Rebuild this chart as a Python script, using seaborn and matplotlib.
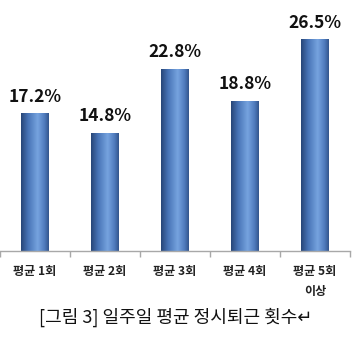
import numpy as np
import pandas as pd
import matplotlib
matplotlib.use("Agg")
import matplotlib.pyplot as plt
from matplotlib.colors import LinearSegmentedColormap
import seaborn as sns

categories = ["평균 1회", "평균 2회", "평균 3회", "평균 4회", "평균 5회\n이상"]
values = [17.2, 14.8, 22.8, 18.8, 26.5]
value_labels = ["17.2%", "14.8%", "22.8%", "18.8%", "26.5%"]
caption = "[그림 3] 일주일 평균 정시퇴근 횟수↵"

sns.set_theme(style="white")
plt.rcParams['font.family'] = ['Noto Sans CJK KR', 'DejaVu Sans']

df = pd.DataFrame({"cat": categories, "val": values})

fig = plt.figure(figsize=(3.54, 3.39), dpi=100)
ax = fig.add_axes([0.0, (339 - 251) / 339, 350 / 354, 251 / 339])

sns.barplot(data=df, x="cat", y="val", ax=ax, width=0.4, color="#4f7cc0",
            saturation=1, edgecolor="none")

ax.set_xlim(-0.5, len(categories) - 0.5)
ax.set_ylim(0, 251 / 8.0)

# cylinder-like gradient on bars
cmap = LinearSegmentedColormap.from_list(
    "cyl", [(0.0, "#284678"), (0.25, "#4874b6"), (0.6, "#76a3df"),
            (0.85, "#4f7bbd"), (1.0, "#33578d")])
grad = np.linspace(0, 1, 64).reshape(1, -1)
for p in ax.patches:
    x0, w, h = p.get_x(), p.get_width(), p.get_height()
    im = ax.imshow(grad, cmap=cmap, aspect="auto",
                   extent=[x0, x0 + w, 0, h], zorder=p.get_zorder() + 0.1,
                   interpolation="bilinear")
    im.set_clip_path(p)
ax.set_xlim(-0.5, len(categories) - 0.5)
ax.set_ylim(0, 251 / 8.0)

for i, (v, lab) in enumerate(zip(values, value_labels)):
    ax.text(i, v + 0.9, lab, ha="center", va="bottom", fontsize=12.5,
            fontweight="bold", color="#111111")

for s in ["top", "right", "left"]:
    ax.spines[s].set_visible(False)
ax.spines["bottom"].set_color("#a8a8a8")
ax.spines["bottom"].set_linewidth(1.0)
ax.set_yticks([])
ax.set_xlabel("")
ax.set_ylabel("")

ax.set_xticks(range(len(categories)), labels=categories, fontweight="bold",
              fontsize=8.7, color="#222222", linespacing=1.75, va="top")
ax.set_xticks(np.arange(-0.5, len(categories) + 0.5, 1.0), minor=True)
ax.tick_params(axis="x", which="minor", length=4, color="#a8a8a8", width=1.0,
               direction="out", bottom=True)
ax.tick_params(axis="x", which="major", length=0, pad=10)

fig.text(176 / 354, (339 - 317) / 339, caption, ha="center", va="center",
         fontsize=13, color="#111111")

fig.savefig("out.png", dpi=100)
